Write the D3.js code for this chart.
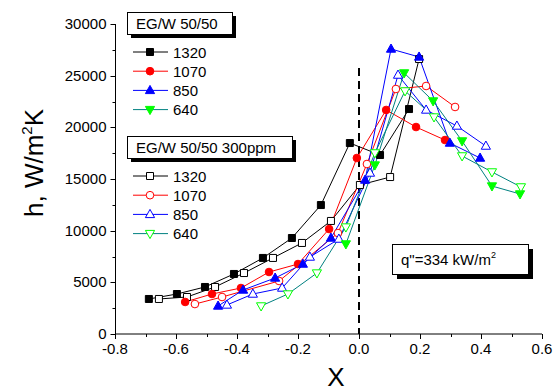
<!DOCTYPE html>
<html>
<head>
<meta charset="utf-8">
<script src="https://cdn.jsdelivr.net/npm/d3@7"></script>
<style>
  html, body { margin: 0; padding: 0; background: #fff; }
  svg { display: block; font-family: "Liberation Sans", Arial, sans-serif; }
</style>
</head>
<body>
<svg id="chart" width="560" height="392"></svg>
<script>
// Heat transfer coefficient vs. quality X, EG/W 50/50 with and without additive
const xTicks = [-0.8, -0.6, -0.4, -0.2, 0.0, 0.2, 0.4, 0.6];
const yTicks = [0, 5000, 10000, 15000, 20000, 25000, 30000];

// EG/W 50/50 (filled markers)
const x1320 = [-0.689, -0.597, -0.505, -0.410, -0.315, -0.220, -0.125, -0.030, 0.069, 0.164];
const h1320 = [3390, 3870, 4550, 5810, 7360, 9290, 12480, 18480, 17320, 21770];
const x1070 = [-0.570, -0.482, -0.387, -0.295, -0.200, -0.098, -0.007, 0.089, 0.187, 0.282];
const h1070 = [3100, 3870, 4450, 6000, 6770, 10160, 17030, 21680, 20030, 18770];
const x850 = [-0.462, -0.380, -0.275, -0.184, -0.092, 0.020, 0.105, 0.197, 0.298, 0.397];
const h850 = [2710, 4260, 5420, 6770, 9290, 14900, 27580, 26810, 18480, 17030];
const x640 = [-0.043, 0.052, 0.148, 0.243, 0.338, 0.436, 0.528];
const h640 = [8710, 16350, 25260, 22550, 18680, 14320, 13550];

// EG/W 50/50 300ppm (open markers)
const x1320p = [-0.656, -0.564, -0.472, -0.377, -0.282, -0.187, -0.092, 0.003, 0.102, 0.197];
const h1320p = [3390, 3580, 4550, 5900, 7360, 8810, 10940, 14420, 15190, 26610];
const x1070p = [-0.538, -0.449, -0.262, -0.069, 0.026, 0.121, 0.220, 0.315];
const h1070p = [2900, 3580, 5130, 9770, 16450, 23710, 24000, 21970];
const x850p = [-0.433, -0.348, -0.252, -0.161, -0.066, 0.036, 0.128, 0.220, 0.321, 0.416];
const h850p = [2810, 3870, 4450, 7450, 9190, 15580, 25060, 21680, 20130, 18190];
const x640p = [-0.321, -0.233, -0.138, -0.043, 0.052, 0.151, 0.246, 0.338, 0.436, 0.531];
const h640p = [2710, 3870, 5900, 10350, 17520, 23520, 21000, 17230, 15680, 14230];

const legendLabels = ["1320", "1070", "850", "640"];

const svg = d3.select("#chart");
const x = d3.scaleLinear().domain([-0.8, 0.6]).range([115, 542]);
const y = d3.scaleLinear().domain([0, 30000]).range([334, 24]);

const series = [
  { xs: x1320, ys: h1320, line: "#000", mark: "square", fill: "#000", stroke: "#000" },
  { xs: x1320p, ys: h1320p, line: "#000", mark: "square", fill: "#fff", stroke: "#000" },
  { xs: x1070, ys: h1070, line: "#ff0000", mark: "circle", fill: "#ff0000", stroke: "#ff0000" },
  { xs: x1070p, ys: h1070p, line: "#ff0000", mark: "circle", fill: "#fff", stroke: "#ff0000" },
  { xs: x850, ys: h850, line: "#0000ff", mark: "triUp", fill: "#0000ff", stroke: "#0000ff" },
  { xs: x850p, ys: h850p, line: "#0000ff", mark: "triUp", fill: "#fff", stroke: "#0000ff" },
  { xs: x640, ys: h640, line: "#008080", mark: "triDown", fill: "#00ff00", stroke: "#00ff00" },
  { xs: x640p, ys: h640p, line: "#008080", mark: "triDown", fill: "#fff", stroke: "#00ff00" }
];

function markerPath(kind) {
  if (kind === "square") return "M-3.5,-3.5H3.5V3.5H-3.5Z";
  if (kind === "circle") return d3.symbol(d3.symbolCircle, 46)();
  if (kind === "triUp") return "M0,-5L4.6,3.2H-4.6Z";
  return "M0,5L4.6,-3.2H-4.6Z";
}

// Axes
const xAxis = svg.append("g").attr("transform", "translate(0,334)");
xAxis.append("line").attr("x1", x(-0.8)).attr("x2", x(0.6)).attr("stroke", "#000");
xAxis.selectAll(".minor").data(d3.range(-0.8, 0.61, 0.1)).enter().append("line")
  .attr("x1", d => Math.round(x(d)) + 0.5).attr("x2", d => Math.round(x(d)) + 0.5)
  .attr("y1", 0).attr("y2", 3).attr("stroke", "#000");
xAxis.selectAll(".major").data(xTicks).enter().append("line")
  .attr("x1", d => Math.round(x(d)) + 0.5).attr("x2", d => Math.round(x(d)) + 0.5)
  .attr("y1", 0).attr("y2", 5).attr("stroke", "#000");
xAxis.selectAll("text").data(xTicks).enter().append("text")
  .attr("x", d => x(d)).attr("y", 20).attr("text-anchor", "middle")
  .attr("font-size", 15).text(d => d3.format(".1f")(d).replace("−", "-"));

const yAxis = svg.append("g").attr("transform", "translate(115.5,0)");
yAxis.append("line").attr("y1", y(0)).attr("y2", y(30000)).attr("stroke", "#000");
yAxis.selectAll(".minor").data(d3.range(0, 30001, 2500)).enter().append("line")
  .attr("y1", d => Math.round(y(d)) + 0.5).attr("y2", d => Math.round(y(d)) + 0.5)
  .attr("x1", 0).attr("x2", -3).attr("stroke", "#000");
yAxis.selectAll(".major").data(yTicks).enter().append("line")
  .attr("y1", d => Math.round(y(d)) + 0.5).attr("y2", d => Math.round(y(d)) + 0.5)
  .attr("x1", 0).attr("x2", -5).attr("stroke", "#000");
yAxis.selectAll("text").data(yTicks).enter().append("text")
  .attr("x", -9).attr("y", d => y(d) + 5).attr("text-anchor", "end")
  .attr("font-size", 15).text(d => d);

// Axis titles
const yTitle = svg.append("text").attr("transform", "translate(43,163) rotate(-90)")
  .attr("text-anchor", "middle").attr("font-size", 26);
yTitle.append("tspan").text("h, W/m");
yTitle.append("tspan").attr("font-size", 15).attr("dy", -11).text("2");
yTitle.append("tspan").attr("dy", 11).text("K");
svg.append("text").attr("x", 336).attr("y", 386).attr("text-anchor", "middle")
  .attr("font-size", 26).text("X");

// Dashed reference at X = 0
svg.append("line").attr("x1", x(0)).attr("x2", x(0)).attr("y1", 68).attr("y2", y(0))
  .attr("stroke", "#000").attr("stroke-width", 2).attr("stroke-dasharray", "8,5");

// Lines then markers
const lineGen = d3.line().x(d => x(d[0])).y(d => y(d[1]));
series.forEach(s => {
  const pts = s.xs.map((v, i) => [v, s.ys[i]]);
  svg.append("path").datum(pts).attr("d", lineGen).attr("fill", "none")
    .attr("stroke", s.line).attr("stroke-width", 1);
});
series.forEach(s => {
  const pts = s.xs.map((v, i) => [v, s.ys[i]]);
  svg.append("g").selectAll("path").data(pts).enter().append("path")
    .attr("d", markerPath(s.mark))
    .attr("transform", d => `translate(${x(d[0])},${y(d[1])})`)
    .attr("fill", s.fill).attr("stroke", s.stroke).attr("stroke-width", 1);
});

// Boxed labels with drop shadow
function shadowBox(x0, y0, w, h, off) {
  svg.append("rect").attr("x", x0 + off).attr("y", y0 + off).attr("width", w).attr("height", h).attr("fill", "#000");
  svg.append("rect").attr("x", x0 + 0.5).attr("y", y0 + 0.5).attr("width", w).attr("height", h)
    .attr("fill", "#fff").attr("stroke", "#000").attr("stroke-width", 1);
}

function legend(title, boxW, top, open) {
  shadowBox(127, top, boxW, 22, 4);
  svg.append("text").attr("x", 136).attr("y", top + 17).attr("font-size", 15).text(title);
  const group = series.filter((s, i) => (i % 2 === 1) === open);
  group.forEach((s, i) => {
    const ry = top + 40 + i * 19.2;
    svg.append("line").attr("x1", 133).attr("x2", 168).attr("y1", ry).attr("y2", ry)
      .attr("stroke", s.line).attr("stroke-width", 1);
    svg.append("path").attr("d", markerPath(s.mark)).attr("transform", `translate(150,${ry})`)
      .attr("fill", s.fill).attr("stroke", s.stroke);
    svg.append("text").attr("x", 173).attr("y", ry + 5.5).attr("font-size", 15).text(legendLabels[i]);
  });
}
legend("EG/W 50/50", 105, 12, false);
legend("EG/W 50/50 300ppm", 165, 136, true);

// Heat flux annotation
shadowBox(392, 244, 136, 30, 5);
const q = svg.append("text").attr("x", 401).attr("y", 265).attr("font-size", 15);
q.append("tspan").text("q\"=334 kW/m");
q.append("tspan").attr("font-size", 9).attr("dy", -7).text("2");
</script>
</body>
</html>
